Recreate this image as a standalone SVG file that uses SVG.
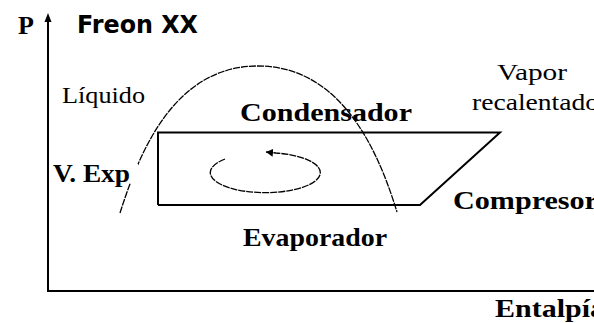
<svg xmlns="http://www.w3.org/2000/svg" width="594" height="323" viewBox="0 0 594 323">
<style>
.ser{font-family:"Liberation Serif","Times New Roman",serif;font-size:24px;fill:#000}
.b{font-weight:bold;font-size:26px}
.sans{font-family:"DejaVu Sans",Verdana,sans-serif;font-weight:bold;font-size:24px;fill:#000}
.ax{stroke:#000;stroke-width:2;fill:none}
.cyc{stroke:#000;stroke-width:2;fill:none}
.thin{stroke:#000;stroke-width:1.3;fill:none;stroke-dasharray:7 1}
</style>
<defs>
<marker id="ah" markerUnits="userSpaceOnUse" markerWidth="10" markerHeight="10" refX="7" refY="4" orient="auto">
<path d="M0,0 L7,4 L0,8 z" fill="#000"/>
</marker>
<mask id="m1">
<rect x="0" y="0" width="594" height="323" fill="#fff"/>
<rect x="50" y="164" width="88" height="19" fill="#000"/>
</mask>
</defs>
<g id="axes">
<path class="ax" d="M48,20 V291 H594"/>
<path d="M44.5,22 L48,13 L51.5,22 z" fill="#000"/>
</g>
<g id="connectors">
<path id="dome" class="thin" mask="url(#m1)" d="M120,213 C140,150 175,66 258,66 C341,66 378,150 397,212"/>
<path id="cycle" class="cyc" d="M158,205 V132.5 H500 L420,205 H158"/>
<path id="spin" class="thin" marker-end="url(#ah)" d="M225,159 A55,20 0 1 0 276,153 L266,152"/>
</g>
<g id="title"><text class="ser b" x="18" y="34">P</text><text class="sans" x="77" y="33" textLength="121" lengthAdjust="spacingAndGlyphs">Freon XX</text></g>
<g id="liquido"><text class="ser" x="62" y="103" textLength="83" lengthAdjust="spacingAndGlyphs">Líquido</text></g>
<g id="vapor"><text class="ser" x="497" y="80" textLength="70" lengthAdjust="spacingAndGlyphs">Vapor</text><text class="ser" x="472" y="110" textLength="127" lengthAdjust="spacingAndGlyphs">recalentado</text></g>
<g id="condensador"><text class="ser b" x="240" y="121" textLength="172" lengthAdjust="spacingAndGlyphs">Condensador</text></g>
<g id="vexp"><text class="ser b" x="53" y="182" textLength="77" lengthAdjust="spacingAndGlyphs">V. Exp</text></g>
<g id="evaporador"><text class="ser b" x="243" y="246" textLength="144" lengthAdjust="spacingAndGlyphs">Evaporador</text></g>
<g id="compresor"><text class="ser b" x="453" y="209" textLength="145" lengthAdjust="spacingAndGlyphs">Compresor</text></g>
<g id="entalpia"><text class="ser b" x="495" y="317" textLength="110" lengthAdjust="spacingAndGlyphs">Entalpía</text></g>
</svg>
